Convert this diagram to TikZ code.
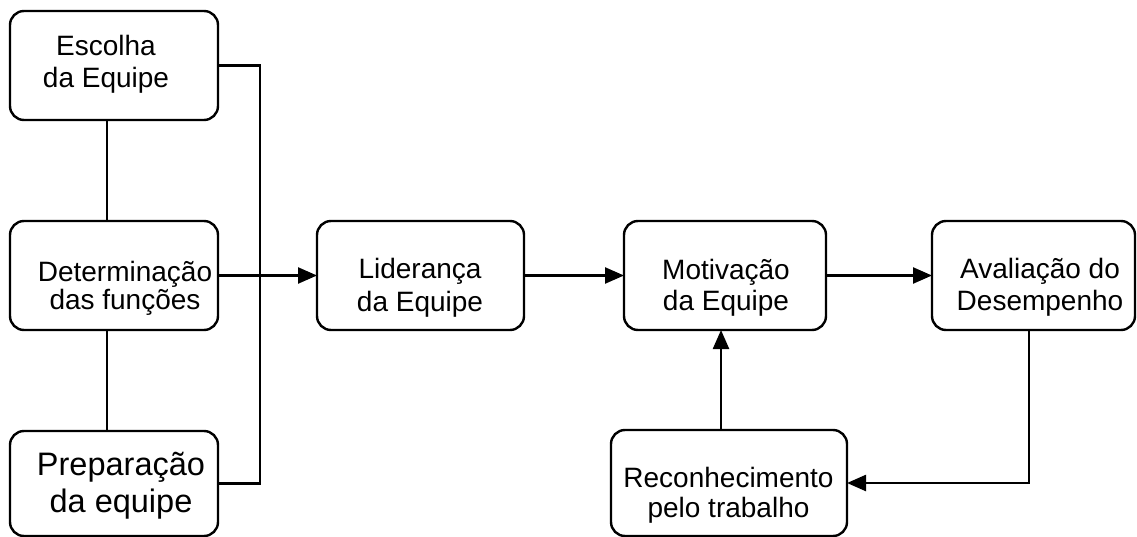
\documentclass[tikz,border=0pt]{standalone}
\usepackage{fontspec}
\setmainfont{Liberation Sans}
\usetikzlibrary{arrows.meta,calc}
\begin{document}
\begin{tikzpicture}[x=1pt,y=-1pt,
  box/.style={draw, line width=2.4pt, rounded corners=14pt, inner sep=0pt, outer sep=0pt},
  txt/.style={align=center, inner sep=0pt, anchor=base, font=\fontsize{28}{32}\selectfont},
  conn/.style={line width=2.4pt},
  arr/.style={conn, -{Triangle[length=19pt,width=16pt]}}]
\useasboundingbox (0,0) rectangle (1137,537);
% boxes
\node[box, minimum width=208pt, minimum height=109pt] (esc) at (114,65.5) {};
\node[box, minimum width=208pt, minimum height=109pt] (det) at (114,275.5) {};
\node[box, minimum width=208pt, minimum height=105pt] (prep) at (114,483.5) {};
\node[box, minimum width=207pt, minimum height=109pt] (lid) at (420.5,275.5) {};
\node[box, minimum width=202pt, minimum height=109pt] (mot) at (725,275.5) {};
\node[box, minimum width=203pt, minimum height=109pt] (ava) at (1033.5,275.5) {};
\node[box, minimum width=236pt, minimum height=106pt] (rec) at (729,483) {};
% texts (anchor = baseline of the last line)
\node[txt] (esc-t) at (106,88) {Escolha\\da Equipe};
\node[txt, font=\fontsize{28}{28}\selectfont] (det-t) at (125,309) {Determinação\\das funções};
\node[txt, font=\fontsize{32.5}{37}\selectfont] (prep-t) at (121,512) {Preparação\\da equipe};
\node[txt, font=\fontsize{28}{33}\selectfont] (lid-t) at (420,311) {Liderança\\da Equipe};
\node[txt, font=\fontsize{28}{31}\selectfont] (mot-t) at (726,310) {Motivação\\da Equipe};
\node[txt] (ava-t) at (1040,310) {Avaliação do\\Desempenho};
\node[txt, font=\fontsize{28}{30}\selectfont] (rec-t) at (728.5,517) {Reconhecimento\\pelo trabalho};
% connectors
\coordinate (bend) at (260,0);
\draw[conn] ($(esc.south)+(-7,0)$) -- ($(det.north)+(-7,0)$);
\draw[conn] ($(det.south)+(-7,0)$) -- ($(prep.north)+(-7,0)$);
\draw[conn] (esc.east) -- (esc.east -| bend) -- (prep.east -| bend) -- (prep.east);
\draw[arr] (det.east) -- (lid.west);
\draw[arr] (lid.east) -- (mot.west);
\draw[arr] (mot.east) -- (ava.west);
\draw[arr] ($(ava.south)+(-4.5,0)$) |- (rec.east);
\draw[arr] ($(rec.north)+(-8,0)$) -- ($(mot.south)+(-4,0)$);
\end{tikzpicture}
\end{document}
